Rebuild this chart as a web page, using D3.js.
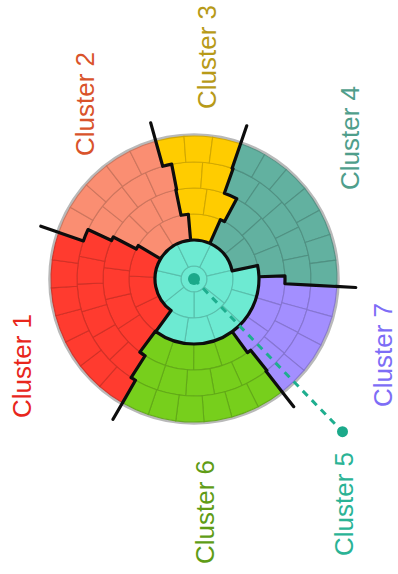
<!DOCTYPE html>
<html><head><meta charset="utf-8">
<script src="https://cdn.jsdelivr.net/npm/d3@7"></script>
<style>html,body{margin:0;padding:0;background:#fff;} svg{display:block;}</style>
</head><body>
<svg id="chart" width="398" height="574"></svg>
<script>
// ---------------- data ----------------
const clusterIds    = [1, 2, 3, 4, 5, 6, 7];
const clusterLabels = ["Cluster 1", "Cluster 2", "Cluster 3", "Cluster 4", "Cluster 5", "Cluster 6", "Cluster 7"];

// each ring: sector boundaries (degrees, clockwise from top), cluster of each sector, cells per sector
const ring0Bounds = [0, 360];                                   const ring0Clusters = [5];                 const ring0Cells = [1];
const ring1Bounds = [25.7, 385.7];                              const ring1Clusters = [5];                 const ring1Cells = [7];
const ring2Bounds = [-5, 24, 78, 216, 301, 355];                const ring2Clusters = [3, 4, 5, 1, 2];     const ring2Cells = [1, 2, 5, 3, 2];
const ring3Bounds = [-11.5, 28, 88, 144, 216.5, 297.5, 348.5];  const ring3Clusters = [3, 4, 7, 6, 1, 2];  const ring3Cells = [2, 3, 3, 4, 4, 3];
const ring4Bounds = [-11, 19.5, 93, 141.5, 212.5, 295, 349];    const ring4Clusters = [3, 4, 7, 6, 1, 2];  const ring4Cells = [2, 5, 4, 5, 6, 4];
const ring5Bounds = [-15.5, 19, 93, 142, 210, 289, 344.5];      const ring5Clusters = [3, 4, 7, 6, 1, 2];  const ring5Cells = [3, 7, 4, 6, 7, 5];

// ---------------- layout / style ----------------
const W = 398, H = 574;
const cx = 194, cy = 279;
const fills  = {1:"#FF3B2F", 2:"#FA8E72", 3:"#FFCC00", 4:"#62B1A0", 5:"#6DEAD2", 6:"#77CF1C", 7:"#A38FFF"};
const labelColors = {1:"#E8261C", 2:"#D9532B", 3:"#B79A18", 4:"#4F9E8B", 5:"#2AB395", 6:"#5F9C16", 7:"#7D6DF6"};
const labelPos = {1:[22,366], 2:[85,104], 3:[207,57], 4:[350,138], 5:[344,504], 6:[205,512], 7:[383,355]};
const calloutAngle = 135.8, calloutRadius = 213, extendRadius = 162;

const rings = [
  {b: ring0Bounds, c: ring0Clusters, n: ring0Cells},
  {b: ring1Bounds, c: ring1Clusters, n: ring1Cells},
  {b: ring2Bounds, c: ring2Clusters, n: ring2Cells},
  {b: ring3Bounds, c: ring3Clusters, n: ring3Cells},
  {b: ring4Bounds, c: ring4Clusters, n: ring4Cells},
  {b: ring5Bounds, c: ring5Clusters, n: ring5Cells}
];

const rScale = d3.scaleLinear().domain([0.5, 5.5]).range([13, 143]);
const rIn  = k => k === 0 ? 0 : rScale(k - 0.5);
const rOut = k => rScale(k + 0.5);
const rad = d => d * Math.PI / 180;
const polar = (r, deg) => [cx + r * Math.sin(rad(deg)), cy - r * Math.cos(rad(deg))];

const svg = d3.select("#chart");
const g = svg.append("g");

// outer grey rim
g.append("circle").attr("cx", cx).attr("cy", cy).attr("r", rOut(5) + 1.2)
  .attr("fill", "none").attr("stroke", "#B9B9B9").attr("stroke-width", 3.2);

// cells
const arc = d3.arc();
const cells = [];
rings.forEach((ring, k) => {
  ring.c.forEach((cl, j) => {
    const a0 = ring.b[j], a1 = ring.b[j + 1], n = ring.n[j];
    for (let i = 0; i < n; i++) {
      cells.push({k, cl, s: a0 + i * (a1 - a0) / n, e: a0 + (i + 1) * (a1 - a0) / n});
    }
  });
});
g.append("g").selectAll("path").data(cells).join("path")
  .attr("transform", `translate(${cx},${cy})`)
  .attr("d", d => arc({innerRadius: rIn(d.k), outerRadius: rOut(d.k), startAngle: rad(d.s), endAngle: rad(d.e)}))
  .attr("fill", d => fills[d.cl])
  .attr("stroke", d => d3.color(fills[d.cl]).darker(0.6))
  .attr("stroke-opacity", 0.9)
  .attr("stroke-width", 1.1);

// cluster boundaries
function clusterAt(k, deg) {
  const ring = rings[k];
  let a = deg;
  while (a < ring.b[0]) a += 360;
  while (a >= ring.b[0] + 360) a -= 360;
  for (let j = 0; j < ring.c.length; j++) if (a >= ring.b[j] && a < ring.b[j + 1]) return ring.c[j];
  return ring.c[ring.c.length - 1];
}
const p = d3.path();
for (let k = 1; k < rings.length; k++) {
  const ring = rings[k];
  if (ring.c.length < 2) continue;
  for (let j = 0; j < ring.c.length; j++) {
    const a = ring.b[j];
    const [x0, y0] = polar(rIn(k), a), [x1, y1] = polar(rOut(k), a);
    p.moveTo(x0, y0); p.lineTo(x1, y1);
  }
}
for (let k = 0; k < rings.length - 1; k++) {
  const norm = a => ((a % 360) + 360) % 360;
  let angs = [...rings[k].b, ...rings[k + 1].b].map(norm);
  angs = Array.from(new Set(angs.map(a => +a.toFixed(4)))).sort((a, b) => a - b);
  const R = rOut(k);
  for (let i = 0; i < angs.length; i++) {
    const a0 = angs[i], a1 = i + 1 < angs.length ? angs[i + 1] : angs[0] + 360;
    const mid = (a0 + a1) / 2;
    if (clusterAt(k, mid) !== clusterAt(k + 1, mid)) {
      const [x0, y0] = polar(R, a0);
      p.moveTo(x0, y0);
      p.arc(cx, cy, R, rad(a0) - Math.PI / 2, rad(a1) - Math.PI / 2, false);
    }
  }
}
const last = rings[rings.length - 1];
for (let j = 0; j < last.c.length; j++) {
  const a = last.b[j];
  const [x0, y0] = polar(rOut(5) - 1, a), [x1, y1] = polar(extendRadius, a);
  p.moveTo(x0, y0); p.lineTo(x1, y1);
}
g.append("path").attr("d", p.toString())
  .attr("fill", "none").attr("stroke", "#0d0d0d").attr("stroke-width", 3.2)
  .attr("stroke-linecap", "round").attr("stroke-linejoin", "round");

// cluster 5 callout
const [dx, dy] = polar(calloutRadius, calloutAngle);
g.append("line").attr("x1", cx).attr("y1", cy).attr("x2", dx).attr("y2", dy)
  .attr("stroke", "#1FAE8F").attr("stroke-width", 3).attr("stroke-dasharray", "7,6");
g.append("circle").attr("cx", cx).attr("cy", cy).attr("r", 6).attr("fill", "#1BA98A");
g.append("circle").attr("cx", dx).attr("cy", dy).attr("r", 5.5).attr("fill", "#1BA98A");

// labels
g.append("g").selectAll("text").data(clusterIds).join("text")
  .attr("transform", d => `translate(${labelPos[d][0]},${labelPos[d][1]}) rotate(-90)`)
  .attr("text-anchor", "middle").attr("dominant-baseline", "central")
  .attr("font-family", "'Liberation Sans', Arial, sans-serif").attr("font-size", 26)
  .attr("fill", d => labelColors[d])
  .text(d => clusterLabels[d - 1]);
</script>
</body></html>
